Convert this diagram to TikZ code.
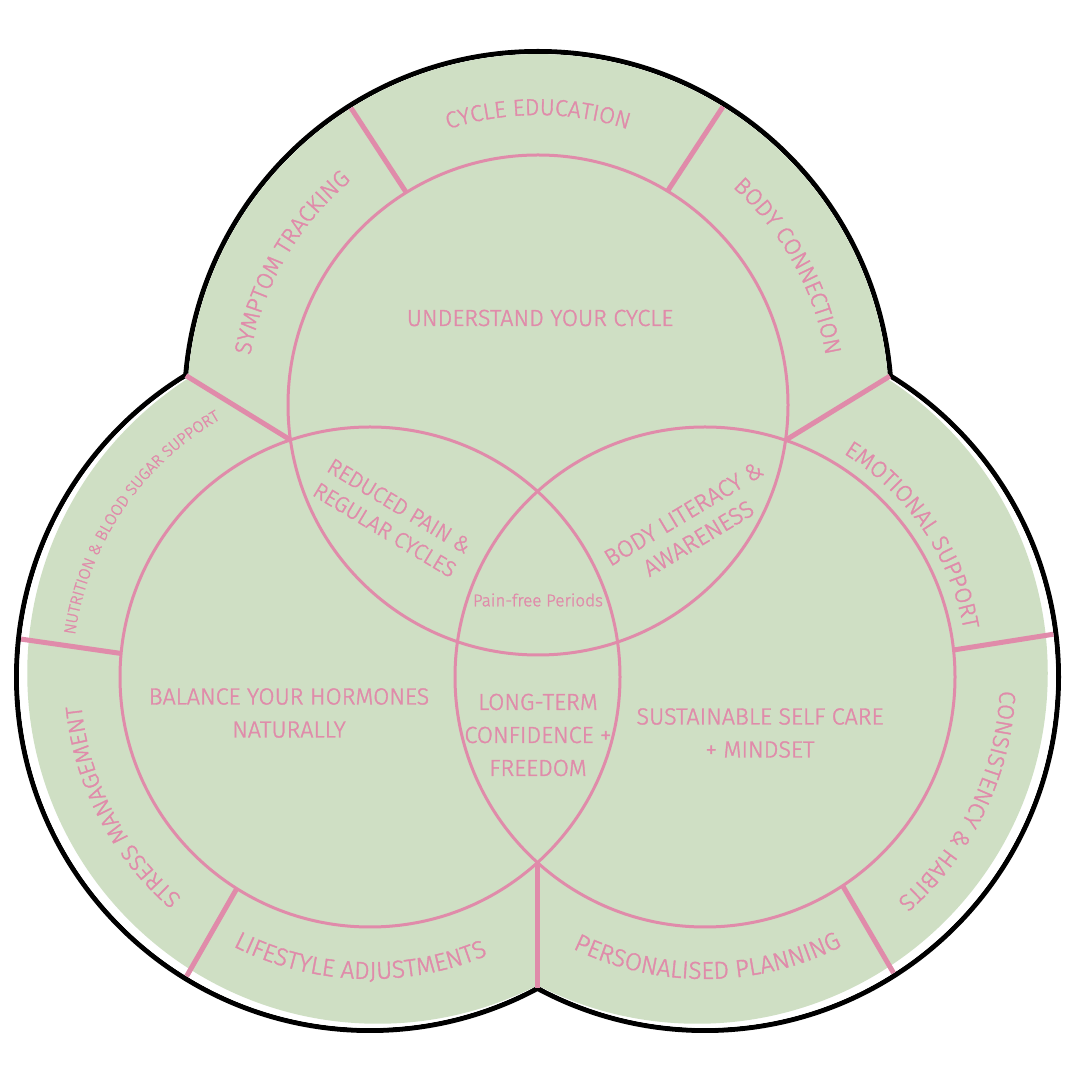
\documentclass[tikz,border=0pt]{standalone}
\usepackage{fontspec}
\setmainfont{Fira Sans Light}[FakeBold=1.5]
\usetikzlibrary{calc,decorations.text}
\definecolor{sage}{RGB}{207,223,196}
\definecolor{rose}{RGB}{224,139,170}
\newcommand{\ringfont}{\fontsize{23}{23}\selectfont}
\newcommand{\bigring}{\fontsize{24.5}{24.5}\selectfont}
\newcommand{\smallring}{\fontsize{16}{16}\selectfont}
\begin{document}
\begin{tikzpicture}[x=1pt,y=1pt,
  ring/.style={decorate, decoration={text along path, text align=center, text color=rose}},
  lbl/.style={text=rose, align=center, font=\fontsize{23.3}{33}\selectfont, inner sep=0pt},
  divider/.style={draw=rose, line width=5pt},
  innerc/.style={draw=rose, line width=3pt}]
\useasboundingbox (0,0) rectangle (1080,1080);
\coordinate (T) at (538,675);
\coordinate (L) at (370,403);
\coordinate (R) at (705,403);
% outer outline
\foreach \c in {T,L,R} \draw[line width=5pt] (\c) circle[radius=353.5];
\foreach \c in {T,L,R} \fill[white] (\c) circle[radius=350.9];
\fill[sage] (L) ++(7.75,3.75) circle[radius=350.5];
\fill[sage] (R) ++(-7.75,3.75) circle[radius=350.5];
\fill[sage] (T) circle[radius=350.9];
% inner circles
\foreach \c in {T,L,R} \draw[innerc] (\c) circle[radius=250];
% dividers
\coordinate (iTL) at (290.5,640);
\coordinate (oTL) at (186,704.4);
\coordinate (iTR) at (785.4,639.7);
\coordinate (oTR) at (889.8,703.8);
\coordinate (iB) at (537.5,217.4);
\coordinate (oB) at (537.5,92.3);
\draw[divider] (iTL) -- (oTL);
\draw[divider] (iTR) -- (oTR);
\draw[divider] (iB) -- (oB);
\draw[divider] ($(T)+(121.8:250)$) -- ($(T)+(122.2:351)$);
\draw[divider] ($(T)+(58.8:250)$) -- ($(T)+(58.2:351)$);
\draw[divider] ($(L)+(174.6:250)$) -- ($(L)+(173.8:351)$);
\draw[divider] ($(R)+(6.2:250)$) -- ($(R)+(7.0:351)$);
\draw[divider] ($(L)+(237.8:250)$) -- ($(L)+(238.5:351)$);
\draw[divider] ($(R)+(-56.6:250)$) -- ($(R)+(-57.5:351)$);
% ring texts
\path[ring, decoration={text={|\ringfont|CYCLE EDUCATION}}]
  ($(T)+(130:290)$) arc[start angle=130, end angle=50, radius=290];
\path[ring, decoration={text={|\ringfont|SYMPTOM TRACKING}}]
  ($(T)+(190:292)$) arc[start angle=190, end angle=110, radius=292];
\path[ring, decoration={text={|\ringfont|BODY CONNECTION}}]
  ($(T)+(69:292)$) arc[start angle=69, end angle=-11, radius=292];
\path[ring, decoration={text={|\smallring|NUTRITION {\&} BLOOD SUGAR SUPPORT}}]
  ($(L)+(186:298)$) arc[start angle=186, end angle=106, radius=298];
\path[ring, decoration={text={|\ringfont|STRESS MANAGEMENT}}]
  ($(L)+(247.6:290)$) arc[start angle=247.6, end angle=167.6, radius=290];
\path[ring, decoration={text={|\bigring|LIFESTYLE ADJUSTMENTS}}]
  ($(L)+(-132:302)$) arc[start angle=-132, end angle=-52, radius=302];
\path[ring, decoration={text={|\bigring|PERSONALISED PLANNING}}]
  ($(R)+(-129.5:302)$) arc[start angle=-129.5, end angle=-49.5, radius=302];
\path[ring, decoration={text={|\ringfont|CONSISTENCY {\&} HABITS}}]
  ($(R)+(14:295)$) arc[start angle=14, end angle=-66, radius=295];
\path[ring, decoration={text={|\ringfont|EMOTIONAL SUPPORT}}]
  ($(R)+(74.3:263)$) arc[start angle=74.3, end angle=-5.7, radius=263];
% inner texts
\node[lbl] (understand) at (540,762) {UNDERSTAND YOUR CYCLE};
\node[lbl] (balance) at (289,367) {BALANCE YOUR HORMONES\\NATURALLY};
\node[lbl] (longterm) at (538,345) {LONG-TERM\\CONFIDENCE +\\FREEDOM};
\node[lbl] (sustain) at (760,347) {SUSTAINABLE SELF CARE\\+ MINDSET};
\node[lbl, rotate=-31, font=\fontsize{22}{28}\selectfont] (reduced) at (392,562) {REDUCED PAIN \&\\REGULAR CYCLES};
\node[lbl, rotate=31, font=\fontsize{23.5}{29}\selectfont] (literacy) at (691,554) {BODY LITERACY \&\\AWARENESS};
\node[lbl, font=\fontsize{17}{17}\selectfont] (painfree) at (538,480) {Pain-free Periods};
\end{tikzpicture}
\end{document}
